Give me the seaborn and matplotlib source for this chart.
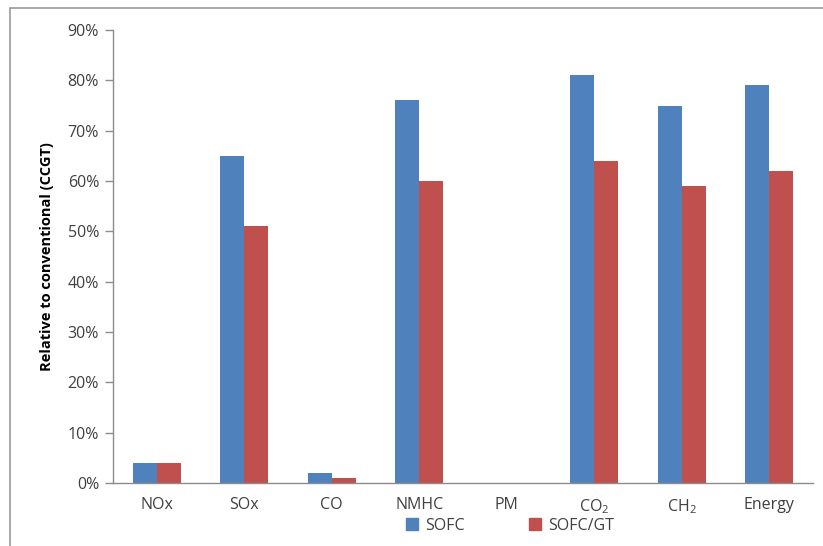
import matplotlib
matplotlib.use("Agg")
import matplotlib.pyplot as plt
from matplotlib.lines import Line2D
from matplotlib.ticker import MultipleLocator, PercentFormatter
import seaborn as sns
import pandas as pd

# Emissions and energy relative to a conventional CCGT plant (%)
categories = ["NOx", "SOx", "CO", "NMHC", "PM", "CO2", "CH2", "Energy"]
tick_labels = ["NOx", "SOx", "CO", "NMHC", "PM",
               r"CO$_\mathregular{2}$", r"CH$_\mathregular{2}$", "Energy"]
sofc = [4, 65, 2, 76, 0, 81, 75, 79]
sofc_gt = [4, 51, 1, 60, 0, 64, 59, 62]
series_names = ["SOFC", "SOFC/GT"]
colors = ["#4F81BD", "#C0504D"]

df = pd.DataFrame({
    "category": categories * 2,
    "value": sofc + sofc_gt,
    "series": [series_names[0]] * len(categories) + [series_names[1]] * len(categories),
})

sns.set_theme(style="white")
plt.rcParams["font.family"] = ["Open Sans", "DejaVu Sans"]
plt.rcParams["mathtext.fontset"] = "custom"
plt.rcParams["mathtext.rm"] = "Open Sans"

fig = plt.figure(figsize=(8.23, 5.46), dpi=100)
ax = fig.add_axes([113 / 823, 1 - 483 / 546, 700 / 823, 453 / 546])

sns.barplot(data=df, x="category", y="value", hue="series", order=categories,
            hue_order=series_names, palette=colors, width=0.55, saturation=1,
            edgecolor="none", ax=ax, legend=False)

ax.set_ylim(0, 90)
ax.set_xlim(-0.5, len(categories) - 0.5)
ax.yaxis.set_major_locator(MultipleLocator(10))
ax.yaxis.set_major_formatter(PercentFormatter(decimals=0))
ax.set_xticks(range(len(categories)))
ax.set_xticklabels(tick_labels)
ax.set_xlabel("")
ax.set_ylabel("Relative to conventional (CCGT)", fontsize=10.5,
              fontweight="bold", color="black", labelpad=10)

axis_gray = "#8C8C8C"
for side in ["top", "right"]:
    ax.spines[side].set_visible(False)
for side in ["left", "bottom"]:
    ax.spines[side].set_color(axis_gray)
    ax.spines[side].set_linewidth(1.0)

ax.tick_params(axis="y", which="major", left=True, length=6, width=1,
               color=axis_gray, labelsize=11.5, labelcolor="#404040", pad=4)
ax.tick_params(axis="x", which="major", bottom=False, labelsize=11.5,
               labelcolor="#404040", pad=4)

# Legend below the plot
handles = [Line2D([], [], marker="s", linestyle="none", markersize=9,
                  markerfacecolor=c, markeredgecolor=c) for c in colors]
fig.legend(handles, series_names, loc="center", bbox_to_anchor=(505 / 823, 1 - 526 / 546),
           ncol=2, frameon=False, fontsize=11.5, handletextpad=-0.2,
           columnspacing=3.4, labelcolor="#404040")

# Outer chart frame (left and top edges)
frame_color = "#9A9A9A"
fig.add_artist(Line2D([10 / 823, 10 / 823], [0, 1 - 8 / 546], color=frame_color,
                      linewidth=1.2, transform=fig.transFigure))
fig.add_artist(Line2D([10 / 823, 1], [1 - 8 / 546, 1 - 8 / 546], color=frame_color,
                      linewidth=1.2, transform=fig.transFigure))

fig.savefig("out.png", dpi=100)
